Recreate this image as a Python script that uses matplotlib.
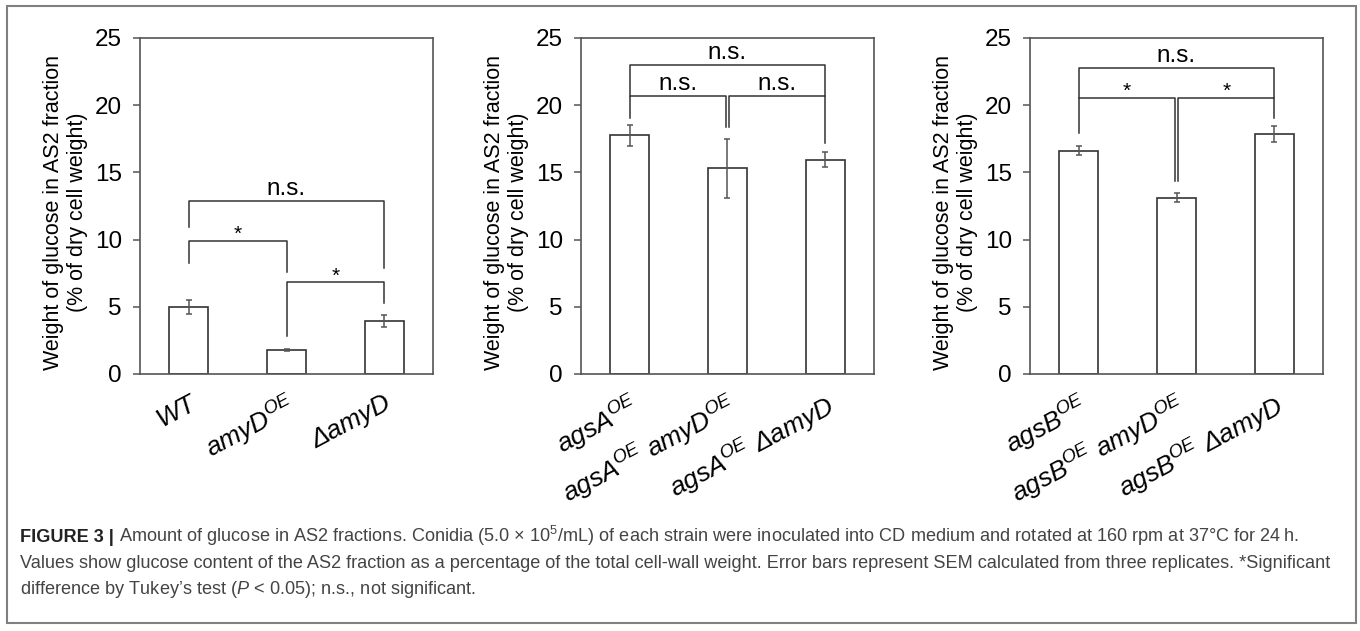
import matplotlib.pyplot as plt
import numpy as np
from matplotlib.patches import Rectangle
from matplotlib.transforms import ScaledTranslation

plt.rcParams["font.family"] = ["Liberation Sans", "DejaVu Sans"]
plt.rcParams["mathtext.fontset"] = "custom"
plt.rcParams["mathtext.rm"] = "Liberation Sans"
plt.rcParams["mathtext.it"] = "Liberation Sans:italic"
plt.rcParams["mathtext.bf"] = "Liberation Sans:bold"
plt.rcParams["mathtext.default"] = "it"

# --- data ---
labels_wt = ["WT", "amyD$^{OE}$", "ΔamyD"]
means_wt = [4.97, 1.78, 3.92]
sem_wt = [0.53, 0.10, 0.45]

labels_a = ["agsA$^{OE}$", "agsA$^{OE}$ amyD$^{OE}$", "agsA$^{OE}$ ΔamyD"]
means_a = [17.75, 15.30, 15.95]
sem_a = [0.75, 2.20, 0.57]

labels_b = ["agsB$^{OE}$", "agsB$^{OE}$ amyD$^{OE}$", "agsB$^{OE}$ ΔamyD"]
means_b = [16.60, 13.13, 17.87]
sem_b = [0.33, 0.33, 0.60]

# brackets: (x_left, x_right, height, left leg end, right leg end, label)
brackets_wt = [
    (0, 2, 12.87, 10.96, 7.90, "n.s."),
    (0, 1, 9.92, 8.28, 7.60, "*"),
    (1, 2, 6.82, 2.83, 5.26, "*"),
]
brackets_a = [
    (0, 2, 23.00, 20.70, 20.70, "n.s."),
    (0, 0.985, 20.70, 19.05, 18.40, "n.s."),
    (1.02, 2, 20.70, 18.40, 17.17, "n.s."),
]
brackets_b = [
    (0, 2, 22.76, 20.54, 20.54, "n.s."),
    (0, 0.98, 20.54, 17.95, 14.37, "*"),
    (1.02, 2, 20.54, 14.37, 19.06, "*"),
]

ylabel = "Weight of glucose in AS2 fraction\n(% of dry cell weight)"
caption_bold = "FIGURE 3 |"
caption_lines = [
    " Amount of glucose in AS2 fractions. Conidia (5.0 \u00d7 10$^{\\mathrm{5}}$/mL) of each strain "
    "were inoculated into CD medium and rotated at 160 rpm at 37\u00b0C for 24\u2009h.",
    "Values show glucose content of the AS2 fraction as a percentage of the total cell-wall weight. "
    "Error bars represent SEM calculated from three replicates. *Significant",
    "difference by Tukey\u2019s test ($P$ < 0.05); n.s., not significant.",
]

W, H = 1360, 631
fig = plt.figure(figsize=(W / 100, H / 100), dpi=100)

line_c = "#333333"
axis_c = "#555555"


def draw_panel(left_px, labels, means, sem, brackets):
    ax = fig.add_axes([left_px / W, (H - 374) / H, 293 / W, 336 / H])
    x = np.arange(len(means))
    ax.bar(x, means, width=0.4, color="white", edgecolor=line_c, linewidth=1.2, zorder=2)
    ax.errorbar(x, means, yerr=sem, fmt="none", ecolor=axis_c, elinewidth=1.1,
                capsize=2.5, capthick=1.1, zorder=3)
    for x0, x1, y, yl, yr, txt in brackets:
        ax.plot([x0, x0, x1, x1], [yl, y, y, yr], color=line_c, lw=1.1, zorder=3)
        if txt == "*":
            ax.text((x0 + x1) / 2, y + 0.05, txt, ha="center", va="baseline", fontsize=15)
        else:
            ax.text((x0 + x1) / 2, y + 0.45, txt, ha="center", va="baseline", fontsize=17.5)
    ax.set_xlim(-0.5, 2.5)
    ax.set_ylim(0, 25)
    ax.set_yticks(range(0, 26, 5))
    ax.set_xticks(x)
    ax.set_xticklabels(labels, rotation=28, ha="right", va="top",
                       rotation_mode="anchor", fontsize=19, fontstyle="italic")
    shift = ScaledTranslation(-8 / 100, 0, fig.dpi_scale_trans)
    for lab in ax.get_xticklabels():
        lab.set_transform(lab.get_transform() + shift)
    ax.tick_params(axis="y", direction="out", length=5, width=1.1, color=axis_c,
                   pad=8, labelsize=17.5)
    ax.tick_params(axis="x", length=0, pad=12)
    for s in ax.spines.values():
        s.set_color(axis_c)
        s.set_linewidth(1.2)
    ax.set_ylabel(ylabel, fontsize=15.5, linespacing=1.15)
    ax.yaxis.set_label_coords(-0.178, 0.48)
    return ax


draw_panel(140, labels_wt, means_wt, sem_wt, brackets_wt)
draw_panel(581, labels_a, means_a, sem_a, brackets_a)
draw_panel(1030, labels_b, means_b, sem_b, brackets_b)

# outer frame
fig.add_artist(Rectangle((6.5 / W, 1 - 623 / H), (1356 - 6.5) / W, (623 - 6) / H,
                         transform=fig.transFigure, fill=False,
                         edgecolor="#808080", lw=1.5))

# caption
cap_size = 13.1
cap_c = "#444444"
baselines = [542, 568, 594]
t = fig.text(20 / W, 1 - baselines[0] / H, caption_bold, fontsize=cap_size,
             fontweight="bold", color="#222222", va="baseline")
fig.canvas.draw()
bb = t.get_window_extent(renderer=fig.canvas.get_renderer())
fig.text(bb.x1 / W, 1 - baselines[0] / H, caption_lines[0], fontsize=cap_size,
         color=cap_c, va="baseline")
for line, yb in zip(caption_lines[1:], baselines[1:]):
    fig.text(20 / W, 1 - yb / H, line, fontsize=cap_size, color=cap_c, va="baseline")

fig.savefig("out.png", dpi=100)
